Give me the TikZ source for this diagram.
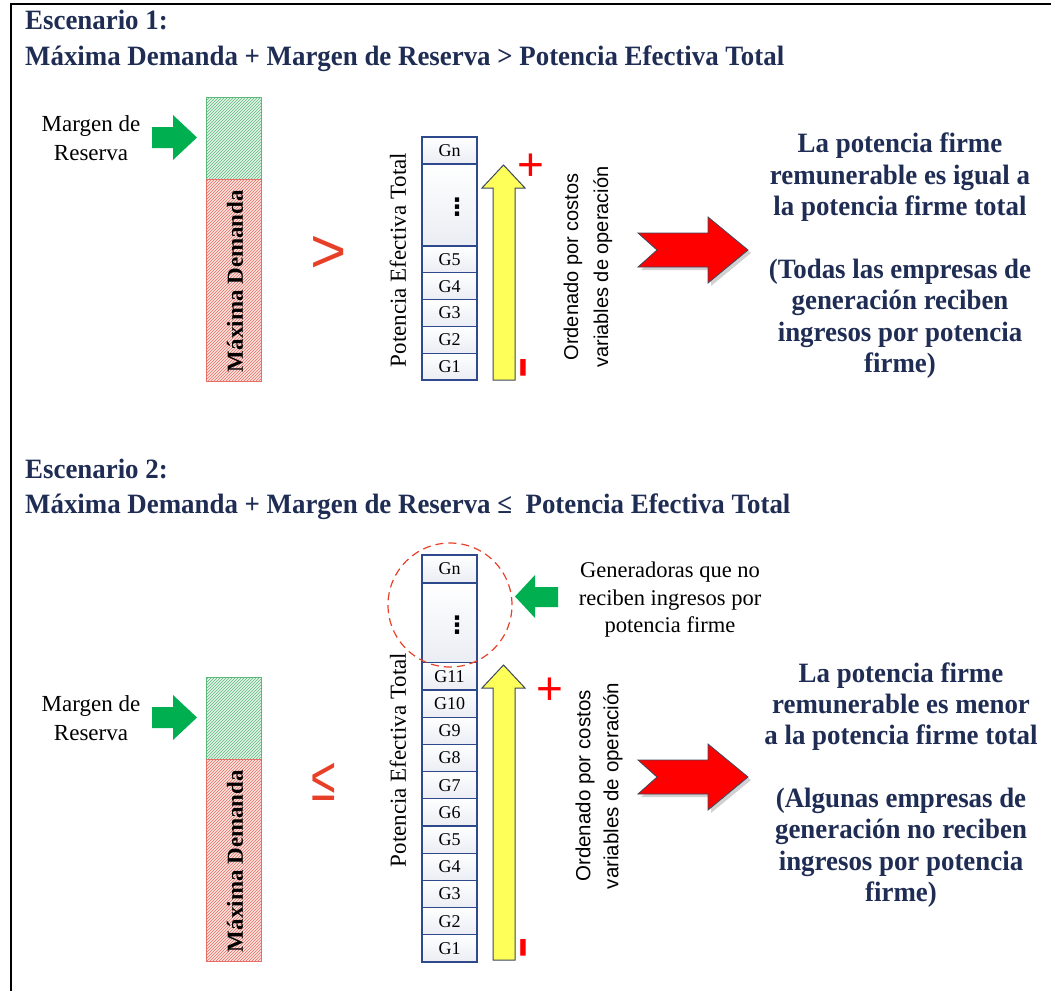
\documentclass[tikz,border=0pt]{standalone}
\usepackage{fontspec}
\usepackage{graphicx}
\setmainfont{Liberation Serif}
\setsansfont{Liberation Sans}
\newfontfamily\headfont[FakeStretch=0.96]{Liberation Serif}
\newfontfamily\symfont{DejaVu Sans}
\usetikzlibrary{patterns}

\definecolor{navy}{RGB}{31,45,84}
\definecolor{boxblue}{RGB}{47,74,140}
\definecolor{arrowgreen}{RGB}{0,176,80}
\definecolor{hatchgreen}{RGB}{92,184,122}
\definecolor{palegreen}{RGB}{228,245,234}
\definecolor{hatchred}{RGB}{230,110,100}
\definecolor{palered}{RGB}{252,228,224}
\definecolor{signred}{RGB}{232,64,40}
\definecolor{arrowyellow}{RGB}{255,255,90}
\definecolor{arrowedge}{RGB}{60,72,92}

\tikzset{
  head/.style={anchor=base west, inner sep=0pt, text=navy, font=\headfont\bfseries\fontsize{28}{28}\selectfont},
  result/.style={align=center, text=navy, font=\headfont\bfseries\fontsize{28}{31.4}\selectfont},
  note/.style={align=center, font=\fontsize{23}{29}\selectfont},
  genbox/.style={draw=boxblue, line width=1.2pt, top color=white, bottom color=boxblue!10, minimum width=55pt, minimum height=#1, inner sep=0pt, font=\fontsize{18}{18}\selectfont},
  dots/.style={font=\symfont\bfseries\fontsize{24}{24}\selectfont},
  sign/.style={text=signred, font=\sffamily\fontsize{62}{62}\selectfont},
  pm/.style={text=red, font=\sffamily\fontsize{46}{46}\selectfont}
}

% left bar: reserve on top of demand, #1 = top edge
\def\demandbar(#1){%
  \fill[palegreen] (206,#1) rectangle (261,#1+82);
  \fill[pattern=north east lines,pattern color=hatchgreen] (206,#1) rectangle (261,#1+82);
  \draw[hatchgreen,line width=1pt] (206,#1) rectangle (261,#1+82);
  \fill[palered] (206,#1+82) rectangle (261,#1+284);
  \fill[pattern=north east lines,pattern color=hatchred] (206,#1+82) rectangle (261,#1+284);
  \draw[hatchred,line width=1pt] (206,#1+82) rectangle (261,#1+284);
  \fill[arrowgreen] (152,#1+30) -- (173,#1+30) -- (173,#1+18) -- (197,#1+40.5) -- (173,#1+63) -- (173,#1+51) -- (152,#1+51) -- cycle;}

% notched red arrow, #1 = centre of the tail notch line
\def\redarrow(#1){%
  \fill[black,opacity=0.18,shift={(#1)}] (3,-14) -- (73,-14) -- (73,-30) -- (113,3) -- (73,36) -- (73,20) -- (3,20) -- (22,3) -- cycle;
  \draw[arrowedge,fill=red,line width=0.8pt,shift={(#1)}] (0,-17) -- (70,-17) -- (70,-33) -- (110,0) -- (70,33) -- (70,17) -- (0,17) -- (19,0) -- cycle;}

\begin{document}
\begin{tikzpicture}[x=1pt,y=-1pt]
  %%%%% START %%%%%
  \useasboundingbox (0,0) rectangle (1051,991);
  \draw[line width=2.5pt] (11,991) -- (11,4) -- (1051,4);

  %%% Escenario 1
  \node[head] (esc1) at (25,29) {Escenario 1:};
  \node[head] (cond1) at (25,65) {Máxima Demanda + Margen de Reserva > Potencia Efectiva Total};

  \demandbar(97)
  \node[note] (mr1) at (91,138) {Margen de\\Reserva};
  \node[rotate=90, font=\bfseries\fontsize{23}{23}\selectfont] (md1) at (235,281) {Máxima Demanda};
  \node[sign] (gt1) at (329,254) {>};

  \node[rotate=90, font=\fontsize{23}{23}\selectfont] (pet1) at (398,260) {Potencia Efectiva Total};
  \node[genbox=27pt] (gn1) at (449.5,150.5) {Gn};
  \node[genbox=82pt] (dt1) at (449.5,205) {};
  \node[dots] (v1) at (457,207) {⋮};
  \foreach \i in {1,...,5}
    \node[genbox=26.8pt] (a\i) at (449.5,{380-26.8*\i+13.4}) {G\i};

  \draw[arrowedge,fill=arrowyellow,line width=1pt] (493,380) -- (493,188) -- (482,188) -- (503.5,165) -- (525,188) -- (515,188) -- (515,380) -- cycle;
  \node[pm] (plus1) at (531,167) {+};
  \node[rotate=90, text=red, font=\bfseries\fontsize{64}{64}\selectfont] (minus1) at (530,367.5) {-};
  \node[rotate=90, align=center, font=\sffamily\fontsize{20}{30}\selectfont] (ord1) at (588,267) {Ordenado por costos\\variables de operación};

  \redarrow(638,250)
  \node[result] (res1) at (900,256) {La potencia firme\\remunerable es igual a\\la potencia firme total\\[31.4pt](Todas las empresas de\\generación reciben\\ingresos por potencia\\firme)};

  %%% Escenario 2
  \node[head] (esc2) at (25,478) {Escenario 2:};
  \node[head] (cond2) at (25,513) {Máxima Demanda + Margen de Reserva ≤~ Potencia Efectiva Total};

  \demandbar(677)
  \node[note] (mr2) at (91,718) {Margen de\\Reserva};
  \node[rotate=90, font=\bfseries\fontsize{23}{23}\selectfont] (md2) at (235,861) {Máxima Demanda};
  \node[sign] (le2) at (324,782) {\scalebox{0.72}[1]{≤}};

  \node[rotate=90, font=\fontsize{23}{23}\selectfont] (pet2) at (398,760) {Potencia Efectiva Total};
  \node[genbox=28pt] (gn2) at (449.5,569) {Gn};
  \node[genbox=80pt] (dt2) at (449.5,623) {};
  \node[dots] (v2) at (457,625) {⋮};
  \foreach \i in {1,...,11}
    \node[genbox=27.2pt] (b\i) at (449.5,{962-27.2*\i+13.6}) {G\i};
  \draw[signred,dash pattern=on 8pt off 5pt,line width=1.2pt] (450,605) circle (62pt);

  \fill[arrowgreen] (558,587) -- (535,587) -- (535,575) -- (515,596.5) -- (535,618) -- (535,607) -- (558,607) -- cycle;
  \node[align=center, font=\fontsize{22.5}{27.5}\selectfont] (gen2) at (670,600) {Generadoras que no\\reciben ingresos por\\potencia firme};

  \draw[arrowedge,fill=arrowyellow,line width=1pt] (493,960) -- (493,688) -- (482,688) -- (503.5,665) -- (525,688) -- (515,688) -- (515,960) -- cycle;
  \node[pm] (plus2) at (550,691) {+};
  \node[rotate=90, text=red, font=\bfseries\fontsize{64}{64}\selectfont] (minus2) at (530,948) {-};
  \node[rotate=90, align=center, font=\sffamily\fontsize{20.5}{28}\selectfont] (ord2) at (599,786) {Ordenado por costos\\variables de operación};

  \redarrow(638,777)
  \node[result] (res2) at (901,785) {La potencia firme\\remunerable es menor\\a la potencia firme total\\[31pt](Algunas empresas de\\generación no reciben\\ingresos por potencia\\firme)};
  %%%%% END %%%%%
\end{tikzpicture}
\end{document}
